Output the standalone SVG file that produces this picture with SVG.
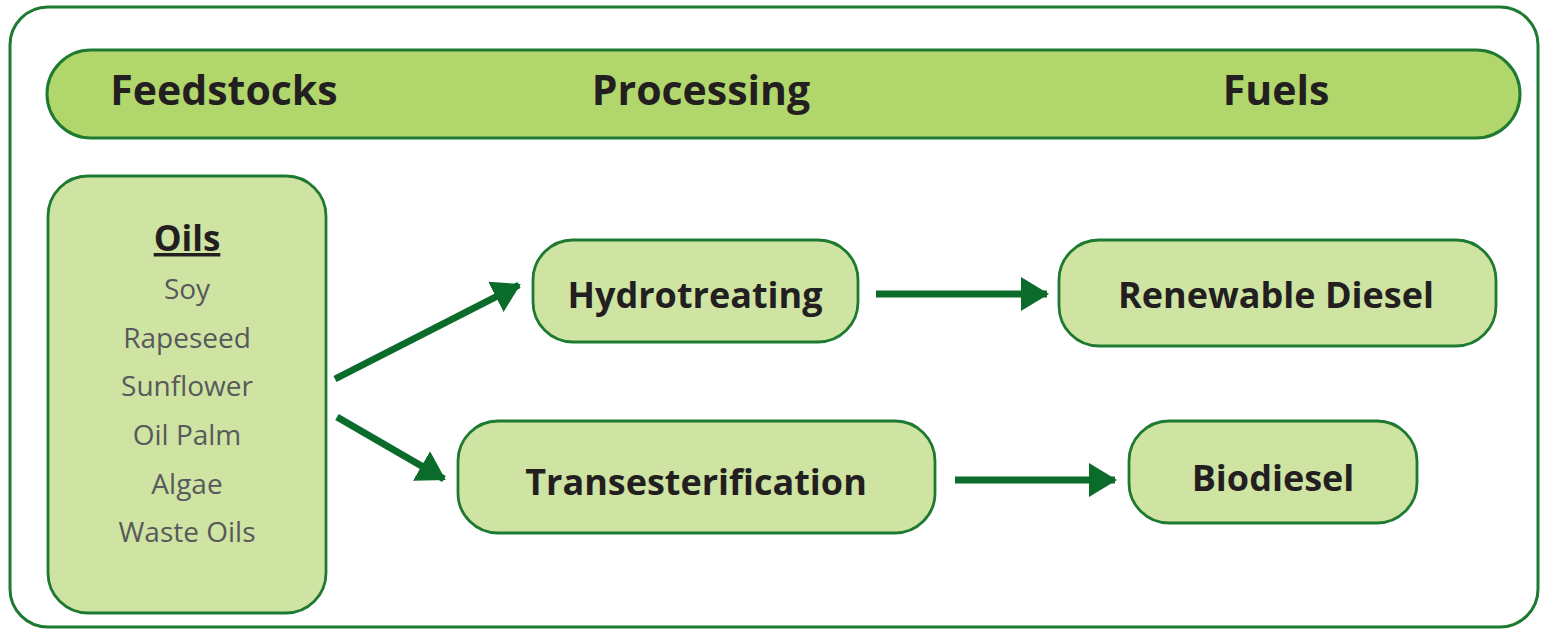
<svg xmlns="http://www.w3.org/2000/svg" width="1548" height="630" viewBox="0 0 1548 630">
<style>
.box{fill:#cfe4a3;stroke:#1e7a30;stroke-width:2.8}
.hdr{fill:#b1d66c;stroke:#1e7a30;stroke-width:3}
.t{font-family:"Open Sans","Liberation Sans",sans-serif;font-weight:700;fill:#231f20;text-anchor:middle}
.h{font-size:41px}
.n{font-size:36px}
.i{font-family:"Open Sans","Liberation Sans",sans-serif;font-size:28px;fill:#58595b;text-anchor:middle}
.c{stroke:#0a6b2a;stroke-width:7;fill:none;marker-end:url(#ah)}
</style>
<defs>
<marker id="ah" markerUnits="userSpaceOnUse" markerWidth="32" markerHeight="36" refX="26" refY="17" orient="auto">
<path d="M0,0 L28,17 L0,34 Z" fill="#0a6b2a"/>
</marker>
</defs>
<rect x="0" y="0" width="1548" height="630" fill="#ffffff"/>
<rect id="frame" x="10" y="7" width="1528" height="620" rx="38" fill="#ffffff" stroke="#1e7a30" stroke-width="3"/>
<g id="header">
<rect class="hdr" x="47" y="50" width="1473" height="88" rx="44"/>
<text class="t h" x="224" y="105">Feedstocks</text>
<text class="t h" x="701" y="105">Processing</text>
<text class="t h" x="1276" y="105">Fuels</text>
</g>
<g id="oils">
<rect class="box" x="48" y="176" width="278" height="437" rx="40"/>
<text class="t" x="187" y="251" font-size="35" text-decoration="underline">Oils </text>
<text class="i" x="187" y="299">Soy</text>
<text class="i" x="187" y="348">Rapeseed</text>
<text class="i" x="187" y="396">Sunflower</text>
<text class="i" x="187" y="445">Oil Palm</text>
<text class="i" x="187" y="494">Algae</text>
<text class="i" x="187" y="542">Waste Oils</text>
</g>
<g id="hydrotreating">
<rect class="box" x="533" y="240" width="325" height="102" rx="40"/>
<text class="t n" x="695" y="308">Hydrotreating</text>
</g>
<g id="transesterification">
<rect class="box" x="458" y="421" width="477" height="112" rx="40"/>
<text class="t n" x="696" y="495">Transesterification</text>
</g>
<g id="renewable-diesel">
<rect class="box" x="1059" y="240" width="437" height="106" rx="40"/>
<text class="t n" x="1276" y="308">Renewable Diesel</text>
</g>
<g id="biodiesel">
<rect class="box" x="1129" y="421" width="288" height="102" rx="40"/>
<text class="t n" x="1273" y="491">Biodiesel</text>
</g>
<g id="connectors">
<line class="c" x1="335" y1="379" x2="519" y2="285"/>
<line class="c" x1="337" y1="417" x2="444" y2="479"/>
<line class="c" x1="876" y1="294" x2="1047" y2="294"/>
<line class="c" x1="955" y1="480" x2="1115" y2="480"/>
</g>
</svg>
